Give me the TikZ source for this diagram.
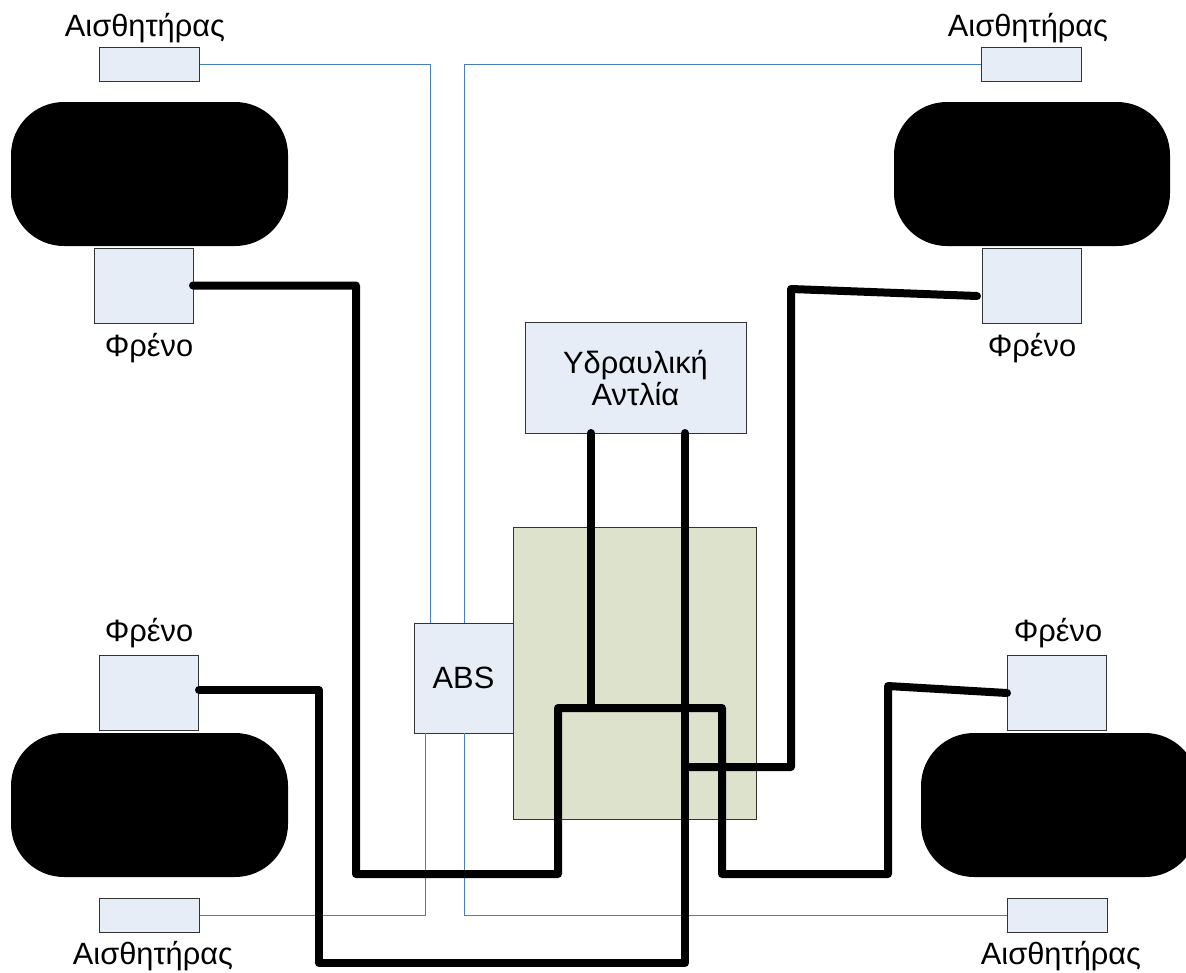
\documentclass[tikz,border=0pt]{standalone}
\usepackage{fontspec}
\setmainfont{Liberation Sans}
\definecolor{boxfill}{HTML}{E7EDF7}
\definecolor{boxline}{HTML}{333333}
\definecolor{greenfill}{HTML}{DDE2CC}
\definecolor{signal}{HTML}{4A7EBB}
\tikzset{
  unit/.style={draw=boxline,fill=boxfill,line width=1pt,inner sep=0pt,align=center,font=\fontsize{30.8}{32}\selectfont},
  sensorbox/.style={unit,minimum width=100,minimum height=34},
  brakebox/.style={unit,minimum width=99,minimum height=75},
  caption/.style={inner sep=0pt,font=\fontsize{30.8}{32}\selectfont},
  tyre/.style={fill=black,rounded corners=53pt},
  signalwire/.style={draw=signal,line width=1pt},
  hydwire/.style={draw=black,line width=8pt,line cap=round,line join=round},
}
\begin{document}
\begin{tikzpicture}[x=1pt,y=-1pt]
\useasboundingbox (0,0) rectangle (1186,972);
\clip (0,0) rectangle (1186,972);
% tyres
\path[tyre] (11,102) rectangle (288,246);
\path[tyre] (894,102) rectangle (1170,246);
\path[tyre] (11,733) rectangle (288,877);
\path[tyre] (921,733) rectangle (1198,877);
% blocks
\node[draw=boxline,fill=greenfill,line width=1pt,minimum width=243,minimum height=292,inner sep=0pt] (mod) at (634.5,673) {};
\node[unit,minimum width=99,minimum height=110] (abs) at (463.5,678) {ABS};
\node[unit,minimum width=221,minimum height=111] (pump) at (635.5,378) {Υδραυλική\\Αντλία};
\node[sensorbox] (sTL) at (149,64) {};
\node[sensorbox] (sTR) at (1031.5,64) {};
\node[sensorbox] (sBL) at (149,915) {};
\node[sensorbox] (sBR) at (1057,915) {};
\node[brakebox] (bTL) at (143.5,285.5) {};
\node[brakebox] (bTR) at (1032,285.5) {};
\node[brakebox] (bBL) at (149,693) {};
\node[brakebox] (bBR) at (1057,693) {};
% captions
\node[caption] (cs1) at (145,28) {Αισθητήρας};
\node[caption] (cs2) at (1028,28) {Αισθητήρας};
\node[caption] (cs3) at (153,956) {Αισθητήρας};
\node[caption] (cs4) at (1061,956) {Αισθητήρας};
\node[caption] (cb1) at (149,348) {Φρένο};
\node[caption] (cb2) at (1032,348) {Φρένο};
\node[caption] (cb3) at (149,633) {Φρένο};
\node[caption] (cb4) at (1058,633) {Φρένο};
% signal wires
\coordinate (aN1) at (430.5,623);
\coordinate (aN2) at (464,623);
\coordinate (aS1) at (425.2,733);
\coordinate (aS2) at (464,733);
\draw[signalwire] (sTL.east) -| (aN1);
\draw[signalwire] (sTR.west) -| (aN2);
\draw[signalwire] (sBL.east) -| (aS1);
\draw[signalwire] (sBR.west) -| (aS2);
% hydraulic wires
\coordinate (p1) at (591,433);
\coordinate (p2) at (685,433);
\coordinate (tee) at (591,708);
\coordinate (tap) at (685,767);
\coordinate (eBTL) at (193,285.5);
\coordinate (eBTR) at (977,296);
\coordinate (eBBL) at (199,690);
\coordinate (eBBR) at (1007,693);
\draw[hydwire] (eBTL) -- (356,285.5) -- (356,874) -- (558,874) -- (558,708) -- (722,708) -- (722,874) -- (888,874) -- (888,686) -- (eBBR);
\draw[hydwire] (p1) -- (tee);
\draw[hydwire] (p2) -- (685,963) -- (319,963) -- (319,690) -- (eBBL);
\draw[hydwire] (tap) -- (791,767) -- (791,289) -- (eBTR);
\end{tikzpicture}
\end{document}
